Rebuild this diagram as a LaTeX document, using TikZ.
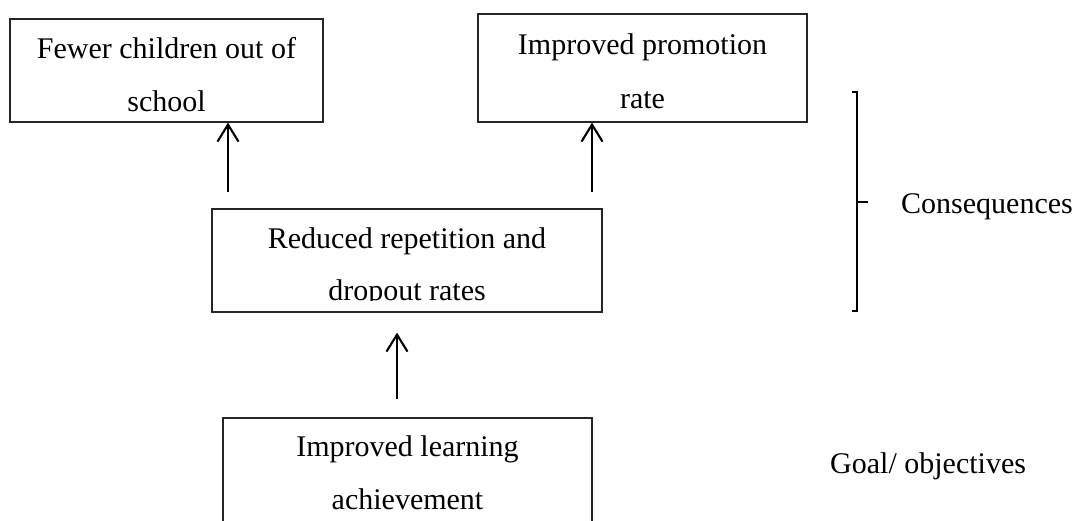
\documentclass[tikz,border=0pt]{standalone}
\usepackage{fontspec}
\setmainfont{Liberation Serif}
\usetikzlibrary{arrows.meta}
\begin{document}
\begin{tikzpicture}[x=1pt,y=-1pt,
  boxnode/.style={draw=black!85, line width=1.2pt, inner sep=0pt, rectangle},
  txt/.style={inner sep=0pt, anchor=base, font=\fontsize{30}{34}\selectfont},
  arr/.style={line width=2.1pt, -{Straight Barb[length=17pt,width=21pt,line width=2.1pt]}},
  brk/.style={line width=1.3pt}]
\useasboundingbox[fill=white] (0,0) rectangle (1079,520);
% boxes
\node[boxnode, minimum width=313pt, minimum height=103pt] (b1) at (166.5,70.5) {};
\node[boxnode, minimum width=329pt, minimum height=108pt] (b2) at (642.5,68) {};
\node[boxnode, minimum width=390pt, minimum height=103pt] (b3) at (407,260.5) {};
\node[boxnode, minimum width=369pt, minimum height=112pt] (b4) at (407.5,474) {};
% texts
\node[txt] (t1a) at (166.5,58) {Fewer children out of};
\node[txt] (t1b) at (166.5,111) {school};
\node[txt] (t2a) at (642.5,54) {Improved promotion};
\node[txt] (t2b) at (642.5,108) {rate};
\node[txt] (t3a) at (407,248) {Reduced repetition and};
\begin{scope}
\clip (212,209) rectangle (602,300.5);
\node[txt] (t3b) at (407,300) {dropout rates};
\end{scope}
\node[txt] (t4a) at (407.5,456) {Improved learning};
\node[txt] (t4b) at (407.5,509) {achievement};
\node[txt, anchor=base west] (cons) at (901,213) {Consequences};
\node[txt, anchor=base west] (goal) at (830,473) {Goal/ objectives};
% arrows
\coordinate (x1) at (228,0);
\coordinate (x2) at (592,0);
\coordinate (x3) at (397,0);
\draw[arr, shorten <=16pt] (b3.north -| x1) -- (b1.south -| x1);
\draw[arr, shorten <=16pt] (b3.north -| x2) -- (b2.south -| x2);
\draw[arr, shorten <=18pt, shorten >=20pt] (b4.north -| x3) -- (b3.south -| x3);
% bracket
\coordinate (bt) at (857,92);
\coordinate (bb) at (857,311);
\coordinate (bm) at (857,202);
\draw[brk] ([xshift=-5pt]bt) -- (bt) -- (bb) -- ([xshift=-5pt]bb);
\draw[brk] (bm) -- ([xshift=11pt]bm);
\end{tikzpicture}
\end{document}
